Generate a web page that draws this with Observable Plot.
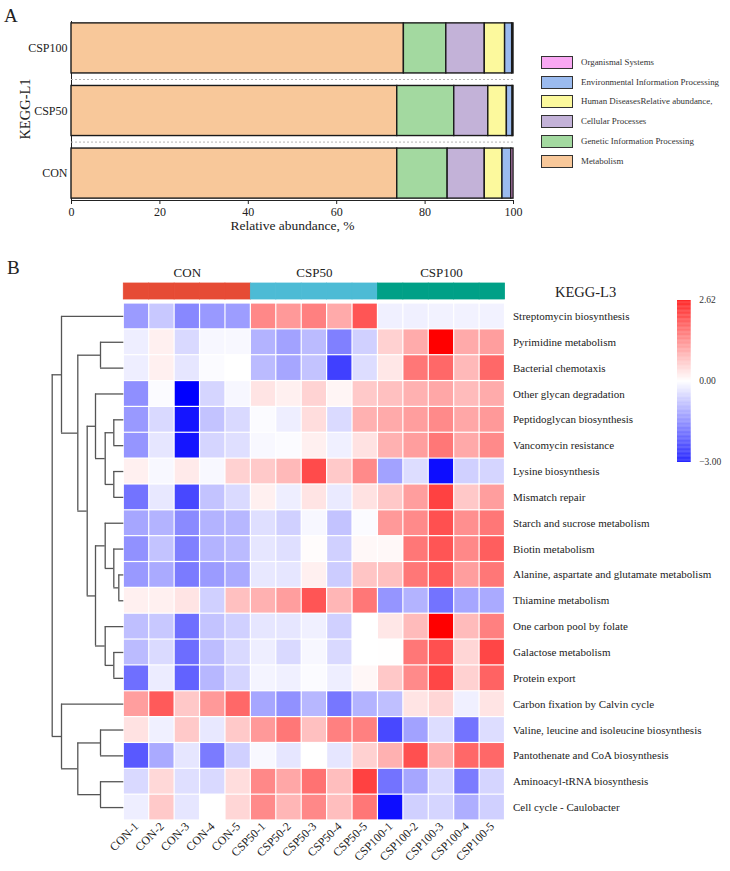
<!DOCTYPE html>
<html><head><meta charset="utf-8">
<script src="https://cdn.jsdelivr.net/npm/d3@7"></script>
<script src="https://cdn.jsdelivr.net/npm/@observablehq/plot@0.6"></script>
<style>
html,body{margin:0;padding:0;background:#fff;font-family:"Liberation Serif","Times New Roman",serif;color:#222;overflow:hidden;}
#root{position:relative;width:730px;height:871px;overflow:hidden;background:#fff;}
</style></head><body><div id="root"></div>
<script>
// ---------- Panel A data ----------
const groupsL1 = ["CSP100", "CSP50", "CON"];
const categoriesL1 = ["Metabolism", "Genetic Information Processing", "Cellular Processes",
  "Human DiseasesRelative abundance,", "Environmental Information Processing", "Organismal Systems"];
const colorsL1 = ["#F8C89A", "#A3D9A0", "#C3B2D8", "#FCF99D", "#9BBBEF", "#F9A8F3"];
const abundanceCSP100 = [75.2, 9.6, 8.7, 4.6, 1.6, 0.3];
const abundanceCSP50 = [73.7, 12.9, 7.7, 4.2, 1.3, 0.2];
const abundanceCON = [73.7, 11.4, 8.4, 4.0, 2.0, 0.5];
const xTicksA = [0, 20, 40, 60, 80, 100];

// ---------- Panel B data ----------
const sampleNames = ["CON-1","CON-2","CON-3","CON-4","CON-5",
  "CSP50-1","CSP50-2","CSP50-3","CSP50-4","CSP50-5",
  "CSP100-1","CSP100-2","CSP100-3","CSP100-4","CSP100-5"];
const groupNames = ["CON", "CSP50", "CSP100"];
const groupColors = ["#E64B35", "#4DBBD5", "#00A087"];
const pathwayNames = ["Streptomycin biosynthesis","Pyrimidine metabolism","Bacterial chemotaxis",
  "Other glycan degradation","Peptidoglycan biosynthesis","Vancomycin resistance","Lysine biosynthesis",
  "Mismatch repair","Starch and sucrose metabolism","Biotin metabolism",
  "Alanine, aspartate and glutamate metabolism","Thiamine metabolism","One carbon pool by folate",
  "Galactose metabolism","Protein export","Carbon fixation by Calvin cycle",
  "Valine, leucine and isoleucine biosynthesis","Pantothenate and CoA biosynthesis",
  "Aminoacyl-tRNA biosynthesis","Cell cycle - Caulobacter"];
const heatValues = [
  [-1.18,-0.65,-1.40,-1.20,-1.15, 1.22,1.05,1.30,0.87,1.75, -0.18,-0.18,-0.15,-0.15,-0.15],
  [-0.20,0.15,-0.45,-0.10,-0.08, -0.90,-1.10,-0.80,-1.50,-0.55, 0.47,0.86,2.62,0.87,1.00],
  [-0.20,0.15,-0.30,-0.05,0.00, -0.80,-1.05,-0.70,-2.25,-0.40, 0.25,1.40,1.55,0.72,1.55],
  [-1.32,-0.05,-3.00,-0.50,-0.10, 0.28,0.15,0.45,0.10,0.55, 0.65,0.80,0.90,0.70,0.86],
  [-1.20,-0.45,-2.75,-0.70,-0.45, -0.05,-0.20,0.35,-0.43,0.80, 0.87,1.00,1.20,0.90,1.05],
  [-1.25,-0.30,-2.75,-0.50,-0.38, -0.08,-0.05,0.15,-0.18,0.30, 0.80,1.00,1.40,0.88,1.20],
  [0.15,-0.08,0.22,-0.08,0.47, 0.55,0.72,1.85,0.55,1.20, -1.10,-0.40,-2.85,-0.55,-0.50],
  [-1.65,-0.27,-2.15,-0.70,-0.43, 0.15,-0.20,0.28,-0.25,0.30, 0.57,1.00,1.95,0.57,1.00],
  [-1.05,-0.90,-1.38,-0.90,-0.85, -0.38,-0.55,-0.10,-0.70,-0.05, 1.05,1.20,1.80,1.15,1.40],
  [-1.30,-0.70,-1.50,-0.90,-0.80, -0.30,-0.38,0.03,-0.55,0.07, 0.07,1.40,1.75,1.22,1.65],
  [-1.20,-1.00,-1.55,-1.18,-1.00, -0.27,-0.30,0.15,-0.60,0.60, 0.65,1.40,1.70,1.00,1.40],
  [0.15,0.15,0.28,-0.55,0.65, 0.80,1.00,1.75,0.75,1.40, -1.25,-0.90,-1.65,-1.05,-1.00],
  [-0.75,-0.65,-1.70,-0.70,-0.55, -0.30,-0.30,-0.18,-0.55,0.00, 0.25,0.70,2.62,0.70,1.30],
  [-0.80,-0.43,-1.72,-0.78,-0.45, -0.20,-0.45,-0.10,-0.45,0.00, 0.01,1.40,1.80,0.42,1.90],
  [-1.70,-0.22,-1.85,-0.85,-0.50, -0.13,-0.18,-0.05,-0.20,0.08, 0.57,1.20,1.90,0.47,1.60],
  [1.00,1.70,0.57,1.05,1.55, -1.05,-1.30,-0.85,-1.60,-0.90, -0.75,0.28,0.42,-0.18,0.28],
  [0.30,-0.18,0.55,-0.27,0.55, 1.05,1.40,0.65,1.30,1.30, -2.15,-1.10,-0.40,-1.65,-0.40],
  [-1.95,-1.00,-0.30,-1.55,-0.55, -0.08,-0.30,0.00,-0.30,0.47, 0.80,1.80,0.80,1.55,1.55],
  [-0.45,0.40,-0.38,-0.45,0.35, 1.22,0.90,1.45,0.67,1.95, -1.65,-1.05,-0.45,-1.55,-0.50],
  [-0.20,0.55,-0.30,0.00,0.42, 1.20,0.75,1.22,0.67,1.40, -2.85,-0.55,-0.50,-0.95,-0.55]
];
const colorDomain = [-3, 0, 2.62];
const colorRange = ["#0000ff", "#ffffff", "#ff0000"];
const colorbarLabels = ["\u22123.00", "0.00", "2.62"];
// dendrogram merges: [childA, childB, height]; indices < 20 are rows, >= 20 are earlier merges
const dendroMerges = [
  [1, 2, 23.3], [4, 5, 10], [6, 7, 10], [21, 22, 18.6], [3, 23, 28.3],
  [10, 11, 5], [9, 25, 10], [8, 26, 18.6], [13, 14, 10], [12, 28, 18.6],
  [27, 29, 28.3], [24, 30, 36.6], [20, 31, 46], [0, 32, 62.3],
  [16, 17, 23.3], [18, 19, 23.3], [34, 35, 46], [15, 36, 62.3], [33, 37, 71.6]
];

// ---------- helpers ----------
const root = document.getElementById("root");
const FONT = "Liberation Serif, Times New Roman, serif";
function place(el, left, top) {
  el.style.position = "absolute"; el.style.left = left + "px"; el.style.top = top + "px";
  if (el.tagName.toLowerCase() === "svg") {
    el.style.maxWidth = "none";
    el.style.width = el.getAttribute("width") + "px";
    el.style.height = el.getAttribute("height") + "px";
    el.style.overflow = "visible";
  }
  root.appendChild(el); return el;
}
function textDiv(text, left, top, size, extra = {}) {
  const d = document.createElement("div");
  d.textContent = text;
  Object.assign(d.style, {fontSize: size + "px", whiteSpace: "nowrap", lineHeight: "1", fontFamily: FONT}, extra);
  return place(d, left, top);
}

// ---------- Panel A ----------
const seriesA = [abundanceCSP100, abundanceCSP50, abundanceCON];
const barRows = [];
groupsL1.forEach((g, gi) => categoriesL1.forEach((c, ci) => barRows.push({group: g, category: c, value: seriesA[gi][ci]})));

const chartA = Plot.plot({
  width: 530, height: 240, marginLeft: 71, marginRight: 17, marginTop: 21, marginBottom: 40,
  style: {fontFamily: FONT, fontSize: "12px", color: "#222", background: "transparent"},
  x: {domain: [0, 100], ticks: xTicksA, tickSize: 4, tickPadding: 3, line: true, label: null},
  y: {domain: groupsL1, paddingInner: 0.2, paddingOuter: 0.03, round: false, tickSize: 0, tickPadding: 4, line: true, label: null},
  color: {domain: categoriesL1, range: colorsL1},
  marks: [
    Plot.ruleY(groupsL1.slice(1), {dy: -31.5, stroke: "#b5b5b5", strokeDasharray: "2,2", strokeWidth: 1}),
    Plot.barX(barRows, Plot.stackX({x: "value", y: "group", fill: "category", order: categoriesL1, stroke: "#1a1a1a", strokeWidth: 1.4})),
    Plot.text(["KEGG-L1"], {frameAnchor: "left", text: d => d, rotate: -90, textAnchor: "middle", dx: -46, dy: -2, fontSize: 14.5}),
    Plot.text(["Relative abundance, %"], {frameAnchor: "bottom", text: d => d, dy: 29, fontSize: 13.5})
  ]
});
place(chartA, 0, 0);
textDiv("A", 4, 6, 19);

// legend for panel A (top to bottom reversed order)
const legendItems = categoriesL1.map((c, i) => ({c, col: colorsL1[i]})).reverse();
legendItems.forEach((it, i) => {
  const top = 56 + i * 19.7;
  const box = document.createElement("div");
  Object.assign(box.style, {width: "30px", height: "11px", background: it.col, border: "1.3px solid #333"});
  place(box, 541, top);
  textDiv(it.c, 581, top + 2, 8.9, {color: "#333"});
});

// ---------- Panel B ----------
textDiv("B", 7, 258, 19);

const cells = [];
pathwayNames.forEach((p, ri) => sampleNames.forEach((s, ci) => cells.push({pathway: p, sample: s, value: heatValues[ri][ci]})));

const colorOpts = {type: "linear", domain: colorDomain, range: colorRange, interpolate: "rgb"};

const heat = Plot.plot({
  width: 730, height: 588, marginLeft: 123.3, marginRight: 225.5, marginTop: 20, marginBottom: 51,
  style: {fontFamily: FONT, fontSize: "11px", color: "#222", background: "transparent"},
  x: {domain: sampleNames, padding: 0, round: false},
  y: {domain: pathwayNames, padding: 0, round: false},
  color: colorOpts,
  marks: [
    Plot.cell(cells, {x: "sample", y: "pathway", fill: "value", inset: 0.6}),
    Plot.axisX({tickRotate: -45, tickSize: 0, tickPadding: 4, fontSize: 11.8, label: null}),
    Plot.axisY({anchor: "right", tickSize: 0, tickPadding: 8, fontSize: 11, label: null})
  ]
});
place(heat, 0, 283);

// group annotation bar
const sampleGroups = sampleNames.map((s, i) => ({sample: s, group: groupNames[Math.floor(i / 5)]}));
const groupCenters = groupNames.map((g, i) => ({group: g, sample: sampleNames[i * 5 + 2]}));
const annot = Plot.plot({
  width: 730, height: 40, marginLeft: 123.3, marginRight: 225.5, marginTop: 23, marginBottom: 1,
  style: {fontFamily: FONT, fontSize: "13px", color: "#222", background: "transparent"},
  x: {domain: sampleNames, padding: 0, round: false, axis: null},
  y: {domain: ["g"], padding: 0, round: false, axis: null},
  color: {domain: groupNames, range: groupColors},
  marks: [
    Plot.cell(sampleGroups, {x: "sample", y: () => "g", fill: "group", stroke: "group", strokeWidth: 0.8}),
    Plot.text(groupCenters, {x: "sample", y: () => "g", text: "group", dy: -19, fontSize: 13})
  ]
});
place(annot, 0, 260);
textDiv("KEGG-L3", 555, 285, 14.5);

// dendrogram
const nodes = pathwayNames.map((p, i) => ({y: i + 0.5, h: 0}));
const vSegs = [], hSegs = [];
dendroMerges.forEach(([a, b, h]) => {
  const A = nodes[a], B = nodes[b];
  vSegs.push({x: h, y1: A.y, y2: B.y});
  hSegs.push({x1: A.h, x2: h, y: A.y});
  hSegs.push({x1: B.h, x2: h, y: B.y});
  nodes.push({y: (A.y + B.y) / 2, h});
});
const dendro = Plot.plot({
  width: 130, height: 588, margin: 0,
  style: {background: "transparent"},
  x: {domain: [0, 71.6], range: [123.3, 51.7], axis: null},
  y: {domain: [0, 20], range: [20, 537], axis: null},
  marks: [
    Plot.ruleX(vSegs, {x: "x", y1: "y1", y2: "y2", stroke: "#555", strokeWidth: 1.3}),
    Plot.ruleY(hSegs, {x1: "x1", x2: "x2", y: "y", stroke: "#555", strokeWidth: 1.3})
  ]
});
place(dendro, 0, 283);

// colour bar
const steps = d3.range(0, 1, 0.005).map(t => ({t, t2: t + 0.005,
  v: t < 0.5 ? colorDomain[0] * (1 - (t + 0.0025) * 2) : colorDomain[2] * ((t + 0.0025) * 2 - 1)}));
const cbTicks = [0, 0.5, 1].map((t, i) => ({t, label: colorbarLabels[i]}));
const cbar = Plot.plot({
  width: 70, height: 185, margin: 0,
  style: {fontFamily: FONT, fontSize: "9.5px", color: "#333", background: "transparent"},
  x: {domain: [0, 1], range: [17, 30.7], axis: null},
  y: {domain: [0, 1], range: [172, 10], axis: null},
  color: colorOpts,
  marks: [
    Plot.rect(steps, {x1: 0, x2: 1, y1: "t", y2: "t2", fill: "v"}),
    Plot.text(cbTicks, {x: 1, y: "t", text: "label", dx: 8, dy: -1, textAnchor: "start", fontSize: 9.5})
  ]
});
place(cbar, 660, 290);
</script></body></html>
